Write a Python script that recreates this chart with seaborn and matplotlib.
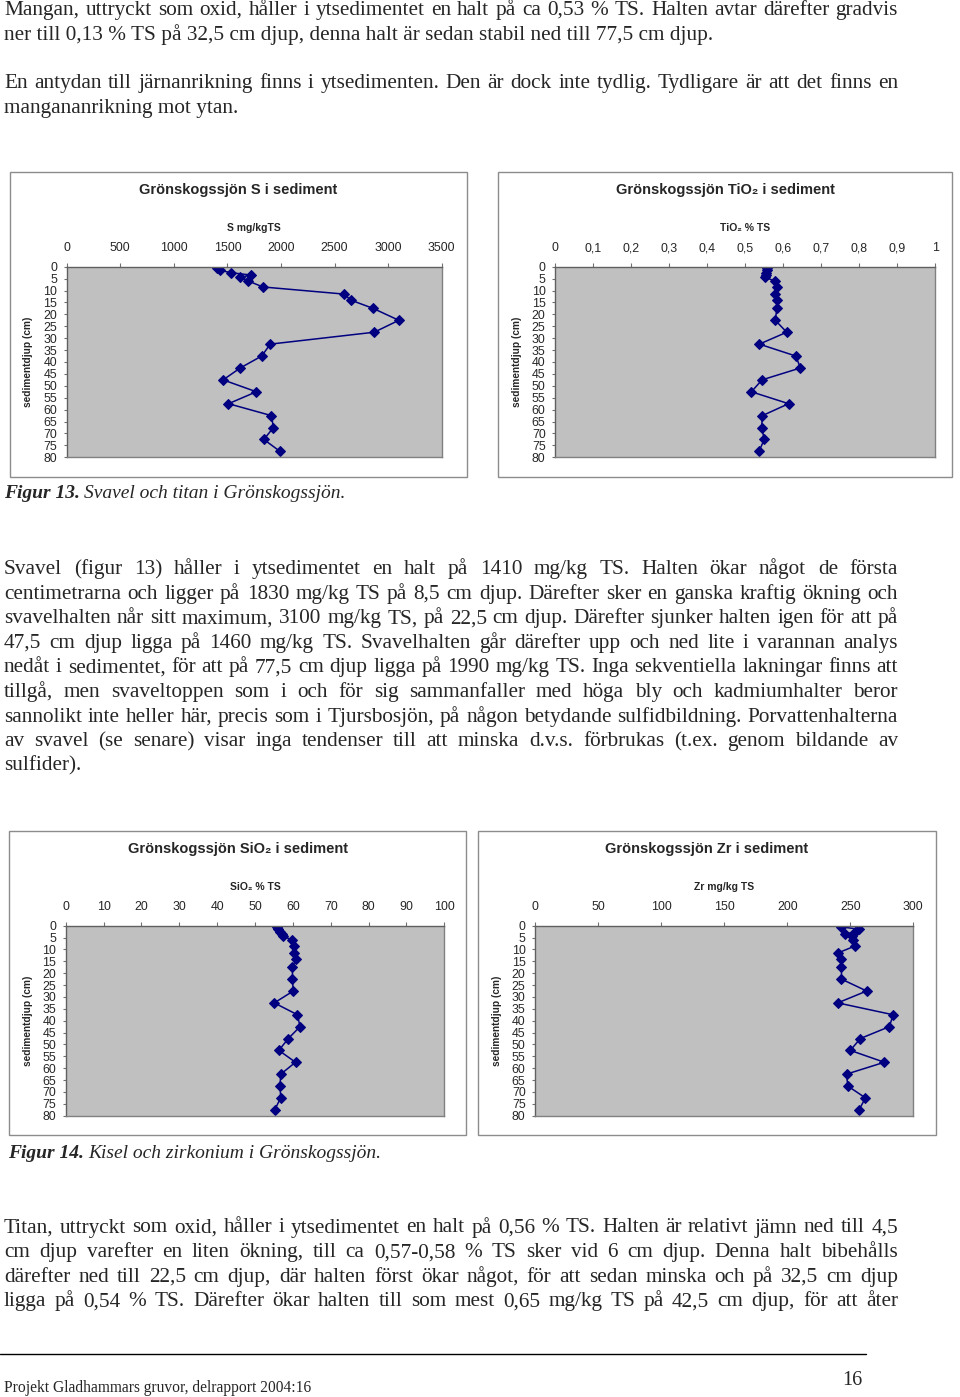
import matplotlib.pyplot as plt
import pandas as pd
import seaborn as sns
from matplotlib.patches import Rectangle
from matplotlib.lines import Line2D

W, H = 960, 1397

# sediment depth (cm) for every sample, same for all four profiles
depth = [0.5, 1.5, 2.5, 3.5, 4.5, 6, 8.5, 11.5, 14, 17.5, 22.5, 27.5,
         32.5, 37.5, 42.5, 47.5, 52.5, 57.5, 62.5, 67.5, 72.5, 77.5]

svavel = [1405, 1430, 1530, 1720, 1620, 1695, 1830, 2590, 2650, 2860, 3100,
          2870, 1900, 1820, 1620, 1460, 1770, 1510, 1910, 1930, 1840, 1990]
titan = [0.556, 0.556, 0.555, 0.554, 0.553, 0.577, 0.583, 0.579, 0.583, 0.583,
         0.579, 0.609, 0.537, 0.633, 0.645, 0.544, 0.516, 0.614, 0.545, 0.543,
         0.550, 0.536]
kisel = [55.7, 56.2, 56.6, 57.1, 57.4, 59.9, 60.2, 60.4, 60.9, 59.9, 59.9,
         60.1, 55.1, 61.2, 61.9, 58.8, 56.3, 60.7, 56.8, 56.6, 56.8, 55.2]
zirkonium = [243, 257, 254, 246, 251, 252, 254, 240, 243, 243, 243, 263,
             240, 284, 281, 258, 250, 277, 247, 248, 262, 257]

depth_ticks = [0, 5, 10, 15, 20, 25, 30, 35, 40, 45, 50, 55, 60, 65, 70, 75, 80]
s_ticks = [0, 500, 1000, 1500, 2000, 2500, 3000, 3500]
tio2_ticks = [0, 0.1, 0.2, 0.3, 0.4, 0.5, 0.6, 0.7, 0.8, 0.9, 1]
tio2_labels = ['0', '0,1', '0,2', '0,3', '0,4', '0,5', '0,6', '0,7', '0,8', '0,9', '1']
sio2_ticks = [0, 10, 20, 30, 40, 50, 60, 70, 80, 90, 100]
zr_ticks = [0, 50, 100, 150, 200, 250, 300]

para1 = ["Mangan, uttryckt som oxid, håller i ytsedimentet en halt på ca 0,53 % TS. Halten avtar därefter gradvis",
         "ner till 0,13 % TS på 32,5 cm djup, denna halt är sedan stabil ned till 77,5 cm djup."]
para2 = ["En antydan till järnanrikning finns i ytsedimenten. Den är dock inte tydlig. Tydligare är att det finns en",
         "mangananrikning mot ytan."]
para3 = ["Svavel (figur 13) håller i ytsedimentet en halt på 1410 mg/kg TS. Halten ökar något de första",
         "centimetrarna och ligger på 1830 mg/kg TS på 8,5 cm djup. Därefter sker en ganska kraftig ökning och",
         "svavelhalten når sitt maximum, 3100 mg/kg TS, på 22,5 cm djup. Därefter sjunker halten igen för att på",
         "47,5 cm djup ligga på 1460 mg/kg TS. Svavelhalten går därefter upp och ned lite i varannan analys",
         "nedåt i sedimentet, för att på 77,5 cm djup ligga på 1990 mg/kg TS. Inga sekventiella lakningar finns att",
         "tillgå, men svaveltoppen som i och för sig sammanfaller med höga bly och kadmiumhalter beror",
         "sannolikt inte heller här, precis som i Tjursbosjön, på någon betydande sulfidbildning. Porvattenhalterna",
         "av svavel (se senare) visar inga tendenser till att minska d.v.s. förbrukas (t.ex. genom bildande av",
         "sulfider)."]
para4 = ["Titan, uttryckt som oxid, håller i ytsedimentet en halt på 0,56 % TS. Halten är relativt jämn ned till 4,5",
         "cm djup varefter en liten ökning, till ca 0,57-0,58 % TS sker vid 6 cm djup. Denna halt bibehålls",
         "därefter ned till 22,5 cm djup, där halten först ökar något, för att sedan minska och på 32,5 cm djup",
         "ligga på 0,54 % TS. Därefter ökar halten till som mest 0,65 mg/kg TS på 42,5 cm djup, för att åter"]

sns.set_style('white')
plt.rcParams['font.family'] = ['Liberation Sans', 'DejaVu Sans']
SERIF = ['Liberation Serif', 'DejaVu Serif']
BODY = 15.3

fig = plt.figure(figsize=(W / 100, H / 100), dpi=100)
renderer = fig.canvas.get_renderer()


def text_line(line, base, justify=True, x0=4, x1=898, size=BODY):
    if not justify:
        fig.text(x0 / W, 1 - base / H, line, fontsize=size, family=SERIF, va='baseline')
        return
    words = line.split()
    parts = [fig.text(0, 1 - base / H, w, fontsize=size, family=SERIF, va='baseline') for w in words]
    widths = [p.get_window_extent(renderer).width for p in parts]
    gap = (x1 - x0 - sum(widths)) / (len(words) - 1)
    # squeeze the glyphs a bit if the line would not fit with normal spaces
    while gap < 3.5:
        size -= 0.1
        for p in parts:
            p.set_fontsize(size)
        widths = [p.get_window_extent(renderer).width for p in parts]
        gap = (x1 - x0 - sum(widths)) / (len(words) - 1)
    x = x0
    for p, w in zip(parts, widths):
        p.set_x(x / W)
        x += w + gap


def paragraph(lines, first, last_justified=False, step=24.6):
    for i, line in enumerate(lines):
        last = i == len(lines) - 1
        text_line(line, first + i * step, justify=(not last) or last_justified)


def caption(num, rest, x0, base):
    t = fig.text(x0 / W, 1 - base / H, num, fontsize=14, family=SERIF,
                 style='italic', weight='bold', va='baseline')
    w = t.get_window_extent(renderer).width
    fig.text((x0 + w + 4) / W, 1 - base / H, rest, fontsize=14, family=SERIF,
             style='italic', va='baseline')


def profile(box, plot, values, ticks, labels, title, xlabel, title_y, xlabel_y, ylabel_x):
    bl, bt, br, bb = box
    fig.add_artist(Rectangle((bl / W, 1 - bb / H), (br - bl) / W, (bb - bt) / H,
                             transform=fig.transFigure, fill=False,
                             edgecolor='#8c8c8c', linewidth=1))
    l, t, r, b = plot
    ax = fig.add_axes([l / W, 1 - b / H, (r - l) / W, (b - t) / H])
    ax.set_facecolor('#c0c0c0')
    df = pd.DataFrame({'value': values, 'depth': depth})
    sns.lineplot(data=df, x='value', y='depth', sort=False, estimator=None,
                 marker='D', markersize=5, color='#000080',
                 markeredgecolor='#000080', linewidth=1.1, ax=ax)
    ax.set_xlim(ticks[0], ticks[-1])
    ax.set_ylim(80, 0)
    ax.set_xticks(ticks, labels)
    ax.set_yticks(depth_ticks, [str(d) for d in depth_ticks])
    ax.tick_params(axis='x', top=True, labeltop=True, bottom=False, labelbottom=False,
                   length=3, width=0.8, color='#707070', pad=6, labelsize=8.9)
    ax.tick_params(axis='y', left=True, length=2, width=0.8, color='#707070',
                   pad=5, labelsize=8.9)
    for s in ax.spines.values():
        s.set_color('#808080')
        s.set_linewidth(1)
    ax.spines['top'].set_color('#606060')
    ax.spines['left'].set_color('#606060')
    h = b - t
    ax.set_title(title, x=((bl + br) / 2 - l) / (r - l), y=1 + (t - title_y) / h,
                 va='center', pad=0, fontsize=10.5, fontweight='bold')
    ax.set_xlabel(xlabel, fontsize=7.5, fontweight='bold')
    ax.xaxis.set_label_position('top')
    ax.xaxis.set_label_coords(0.5, 1 + (t - xlabel_y) / h)
    ax.xaxis.label.set_va('center')
    ax.set_ylabel('sedimentdjup (cm)', fontsize=7.3, fontweight='bold')
    ax.yaxis.set_label_coords((ylabel_x - l) / (r - l), 0.5)
    ax.yaxis.label.set_va('center')
    return ax


profile((10, 171.5, 467, 477), (66.7, 266.7, 441.7, 457.3), svavel, s_ticks,
        [str(v) for v in s_ticks], 'Grönskogssjön S i sediment', 'S mg/kgTS',
        190, 228, 28)
profile((498, 171.5, 952, 477), (555.3, 266.7, 935.3, 457.3), titan, tio2_ticks,
        tio2_labels, 'Grönskogssjön TiO₂ i sediment', 'TiO₂ % TS',
        190, 228, 517)
profile((9, 831, 466, 1135), (65.7, 925.7, 444.3, 1115.7), kisel, sio2_ticks,
        [str(v) for v in sio2_ticks], 'Grönskogssjön SiO₂ i sediment', 'SiO₂ % TS',
        849, 887, 28)
profile((478, 831, 936, 1135), (535.3, 925.7, 913.3, 1115.7), zirkonium, zr_ticks,
        [str(v) for v in zr_ticks], 'Grönskogssjön Zr i sediment', 'Zr mg/kg TS',
        849, 887, 497)

paragraph(para1, 15)
paragraph(para2, 88)
caption('Figur 13.', 'Svavel och titan i Grönskogssjön.', 4, 498.5)
paragraph(para3, 574)
caption('Figur 14.', 'Kisel och zirkonium i Grönskogssjön.', 8, 1157.5)
paragraph(para4, 1232.5, last_justified=True)

fig.add_artist(Line2D([0, 866 / W], [1 - 1354 / H, 1 - 1354 / H],
                      transform=fig.transFigure, color='black', linewidth=1))
fig.text(4 / W, 1 - 1392 / H, 'Projekt Gladhammars gruvor, delrapport 2004:16',
         fontsize=11.2, family=SERIF, va='baseline')
fig.text(862 / W, 1 - 1385 / H, '16', fontsize=14.5, family=SERIF,
         va='baseline', ha='right')

fig.savefig('out.png', dpi=100, facecolor='white')
